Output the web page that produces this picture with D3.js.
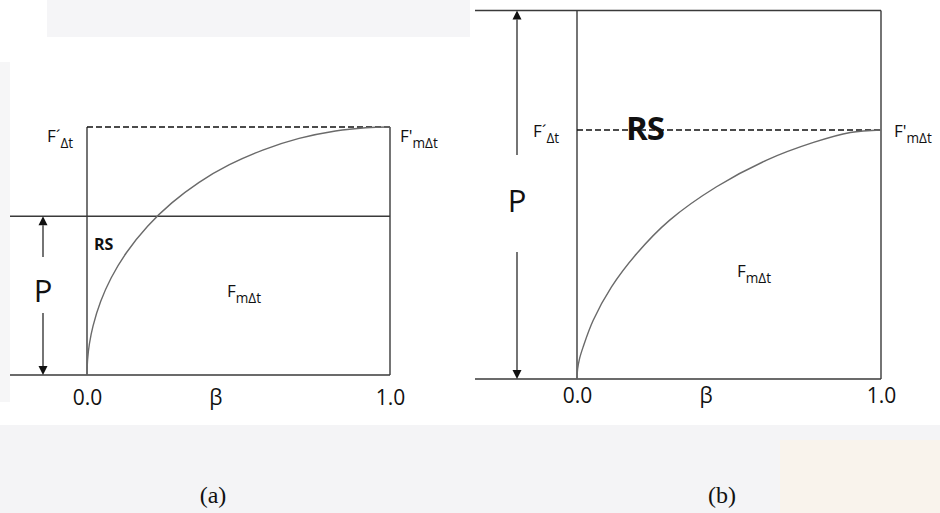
<!DOCTYPE html>
<html>
<head>
<meta charset="utf-8">
<script src="https://cdn.jsdelivr.net/npm/d3@7"></script>
<style>
  html, body { margin: 0; padding: 0; background: #ffffff; }
  svg { display: block; }
  text { font-family: "Open Sans", "DejaVu Sans", sans-serif; fill: #111; }
</style>
</head>
<body>
<svg id="chart" width="940" height="513"></svg>
<script>
// β tick positions and their labels
const betaTicks = [0, 1];
const betaTickLabels = ["0.0", "1.0"];

// Panel (a): cumulative curve, β vs. normalised F (F'mΔt = 1)
const curveABeta  = [0, 0.002, 0.008, 0.02, 0.045, 0.08, 0.13, 0.2, 0.28, 0.37, 0.47, 0.58, 0.7, 0.82, 0.92, 1.0];
const curveAValue = [0, 0.063, 0.126, 0.198, 0.296, 0.392, 0.493, 0.6, 0.694, 0.777, 0.848, 0.907, 0.954, 0.984, 0.997, 1.0];

// Panel (b): cumulative curve
const curveBBeta  = [0, 0.002, 0.008, 0.02, 0.053, 0.113, 0.196, 0.305, 0.459, 0.624, 0.778, 0.899, 1.0];
const curveBValue = [0, 0.04, 0.08, 0.128, 0.235, 0.369, 0.503, 0.638, 0.772, 0.879, 0.95, 0.99, 1.0];

// Level of P relative to F'mΔt in each panel
const pLevels = [0.64, 1.48];
const panelLabels = ["(a)", "(b)"];

const svg = d3.select("#chart");

// faint background texture of the scanned page
const haze = svg.append("g");
haze.append("rect").attr("x", 47).attr("y", 0).attr("width", 423).attr("height", 37).attr("fill", "#f5f5f7");
haze.append("rect").attr("x", 0).attr("y", 62).attr("width", 10).attr("height", 340).attr("fill", "#f6f6f7");
haze.append("rect").attr("x", 0).attr("y", 425).attr("width", 940).attr("height", 88).attr("fill", "#f4f4f6");
haze.append("rect").attr("x", 780).attr("y", 440).attr("width", 160).attr("height", 73).attr("fill", "#f9f3ec");

const layouts = [
  { x0: 87,  x1: 390, y0: 375, y1: 127, left: 10,  arrowX: 43,  gapTop: 257, gapBot: 313, pY: 302, tickY: 405, labelX: 213 },
  { x0: 577, x1: 881, y0: 379, y1: 130, left: 475, arrowX: 517, gapTop: 155, gapBot: 252, pY: 212, tickY: 403, labelX: 722 }
];

const curves = [
  curveABeta.map((b, i) => [b, curveAValue[i]]),
  curveBBeta.map((b, i) => [b, curveBValue[i]])
];

const ink = "#3a3a3a";

layouts.forEach((L, k) => {
  const x = d3.scaleLinear().domain([0, 1]).range([L.x0, L.x1]);
  const y = d3.scaleLinear().domain([0, 1]).range([L.y0, L.y1]);
  const g = svg.append("g");
  const pY = y(pLevels[k]);

  // baseline and P level line
  g.append("line").attr("x1", L.left).attr("x2", x(1)).attr("y1", y(0)).attr("y2", y(0))
    .attr("stroke", ink).attr("stroke-width", 1.6);
  g.append("line").attr("x1", L.left).attr("x2", x(1)).attr("y1", pY).attr("y2", pY)
    .attr("stroke", ink).attr("stroke-width", 1.4);

  // verticals at β = 0 and β = 1
  const topY = Math.min(pY, y(1));
  g.append("line").attr("x1", x(0)).attr("x2", x(0)).attr("y1", y(0)).attr("y2", topY)
    .attr("stroke", ink).attr("stroke-width", 1.4);
  g.append("line").attr("x1", x(1)).attr("x2", x(1)).attr("y1", y(0)).attr("y2", topY)
    .attr("stroke", ink).attr("stroke-width", 1.4);

  // dashed F' level
  g.append("line").attr("x1", x(0)).attr("x2", x(1)).attr("y1", y(1)).attr("y2", y(1))
    .attr("stroke", "#111").attr("stroke-width", 1.6).attr("stroke-dasharray", "6,3");

  // cumulative curve
  const line = d3.line().x(d => x(d[0])).y(d => y(d[1])).curve(d3.curveCatmullRom.alpha(0.5));
  g.append("path").attr("d", line(curves[k])).attr("fill", "none")
    .attr("stroke", "#6a6a6a").attr("stroke-width", 1.4);

  // P double arrow with a gap for the label
  const ax = L.arrowX, tipTop = pY, tipBot = y(0), hh = 9, hw = 4.5;
  g.append("line").attr("x1", ax).attr("x2", ax).attr("y1", tipTop + hh).attr("y2", L.gapTop)
    .attr("stroke", ink).attr("stroke-width", 1.4);
  g.append("line").attr("x1", ax).attr("x2", ax).attr("y1", L.gapBot).attr("y2", tipBot - hh)
    .attr("stroke", ink).attr("stroke-width", 1.4);
  g.append("path").attr("d", `M${ax},${tipTop}L${ax - hw},${tipTop + hh}L${ax + hw},${tipTop + hh}Z`).attr("fill", "#111");
  g.append("path").attr("d", `M${ax},${tipBot}L${ax - hw},${tipBot - hh}L${ax + hw},${tipBot - hh}Z`).attr("fill", "#111");
  g.append("text").attr("x", ax).attr("y", L.pY).attr("text-anchor", "middle")
    .attr("font-size", 31).text("P");

  // β axis ticks
  const axis = d3.axisBottom(x).tickValues(betaTicks)
    .tickFormat((d, i) => betaTickLabels[i]).tickSize(0).tickPadding(0);
  const ag = g.append("g").attr("transform", `translate(0,${L.tickY})`).call(axis);
  ag.select(".domain").remove();
  ag.selectAll("text").attr("dy", 0).attr("font-size", 21).attr("fill", "#111");
  g.append("text").attr("x", x(0.425)).attr("y", L.tickY).attr("text-anchor", "middle")
    .attr("font-size", 21).text("β");

  // panel tag
  g.append("text").attr("x", L.labelX).attr("y", 503).attr("text-anchor", "middle")
    .style("font-family", "'Liberation Serif', 'Times New Roman', serif")
    .attr("font-size", 24).text(panelLabels[k]);
});

// subscripted labels
function sublabel(px, py, main, sub, size) {
  const t = svg.append("text").attr("x", px).attr("y", py).attr("font-size", size);
  t.append("tspan").text(main);
  t.append("tspan").attr("font-size", size * 0.8).attr("dy", size * 0.36).text(sub);
  return t;
}

// panel (a)
sublabel(47, 142, "F´", "Δt", 17);
sublabel(400, 142, "F'", "mΔt", 17);
sublabel(227, 297, "F", "mΔt", 17);
svg.append("text").attr("x", 94).attr("y", 250).attr("font-size", 16).attr("font-weight", "bold").text("RS");

// panel (b)
sublabel(533, 137, "F´", "Δt", 17);
sublabel(894, 137, "F'", "mΔt", 17);
sublabel(737, 277, "F", "mΔt", 17);
svg.append("text").attr("x", 626).attr("y", 140).attr("font-size", 33).attr("font-weight", "bold")
  .attr("letter-spacing", -1).text("RS");
</script>
</body>
</html>
